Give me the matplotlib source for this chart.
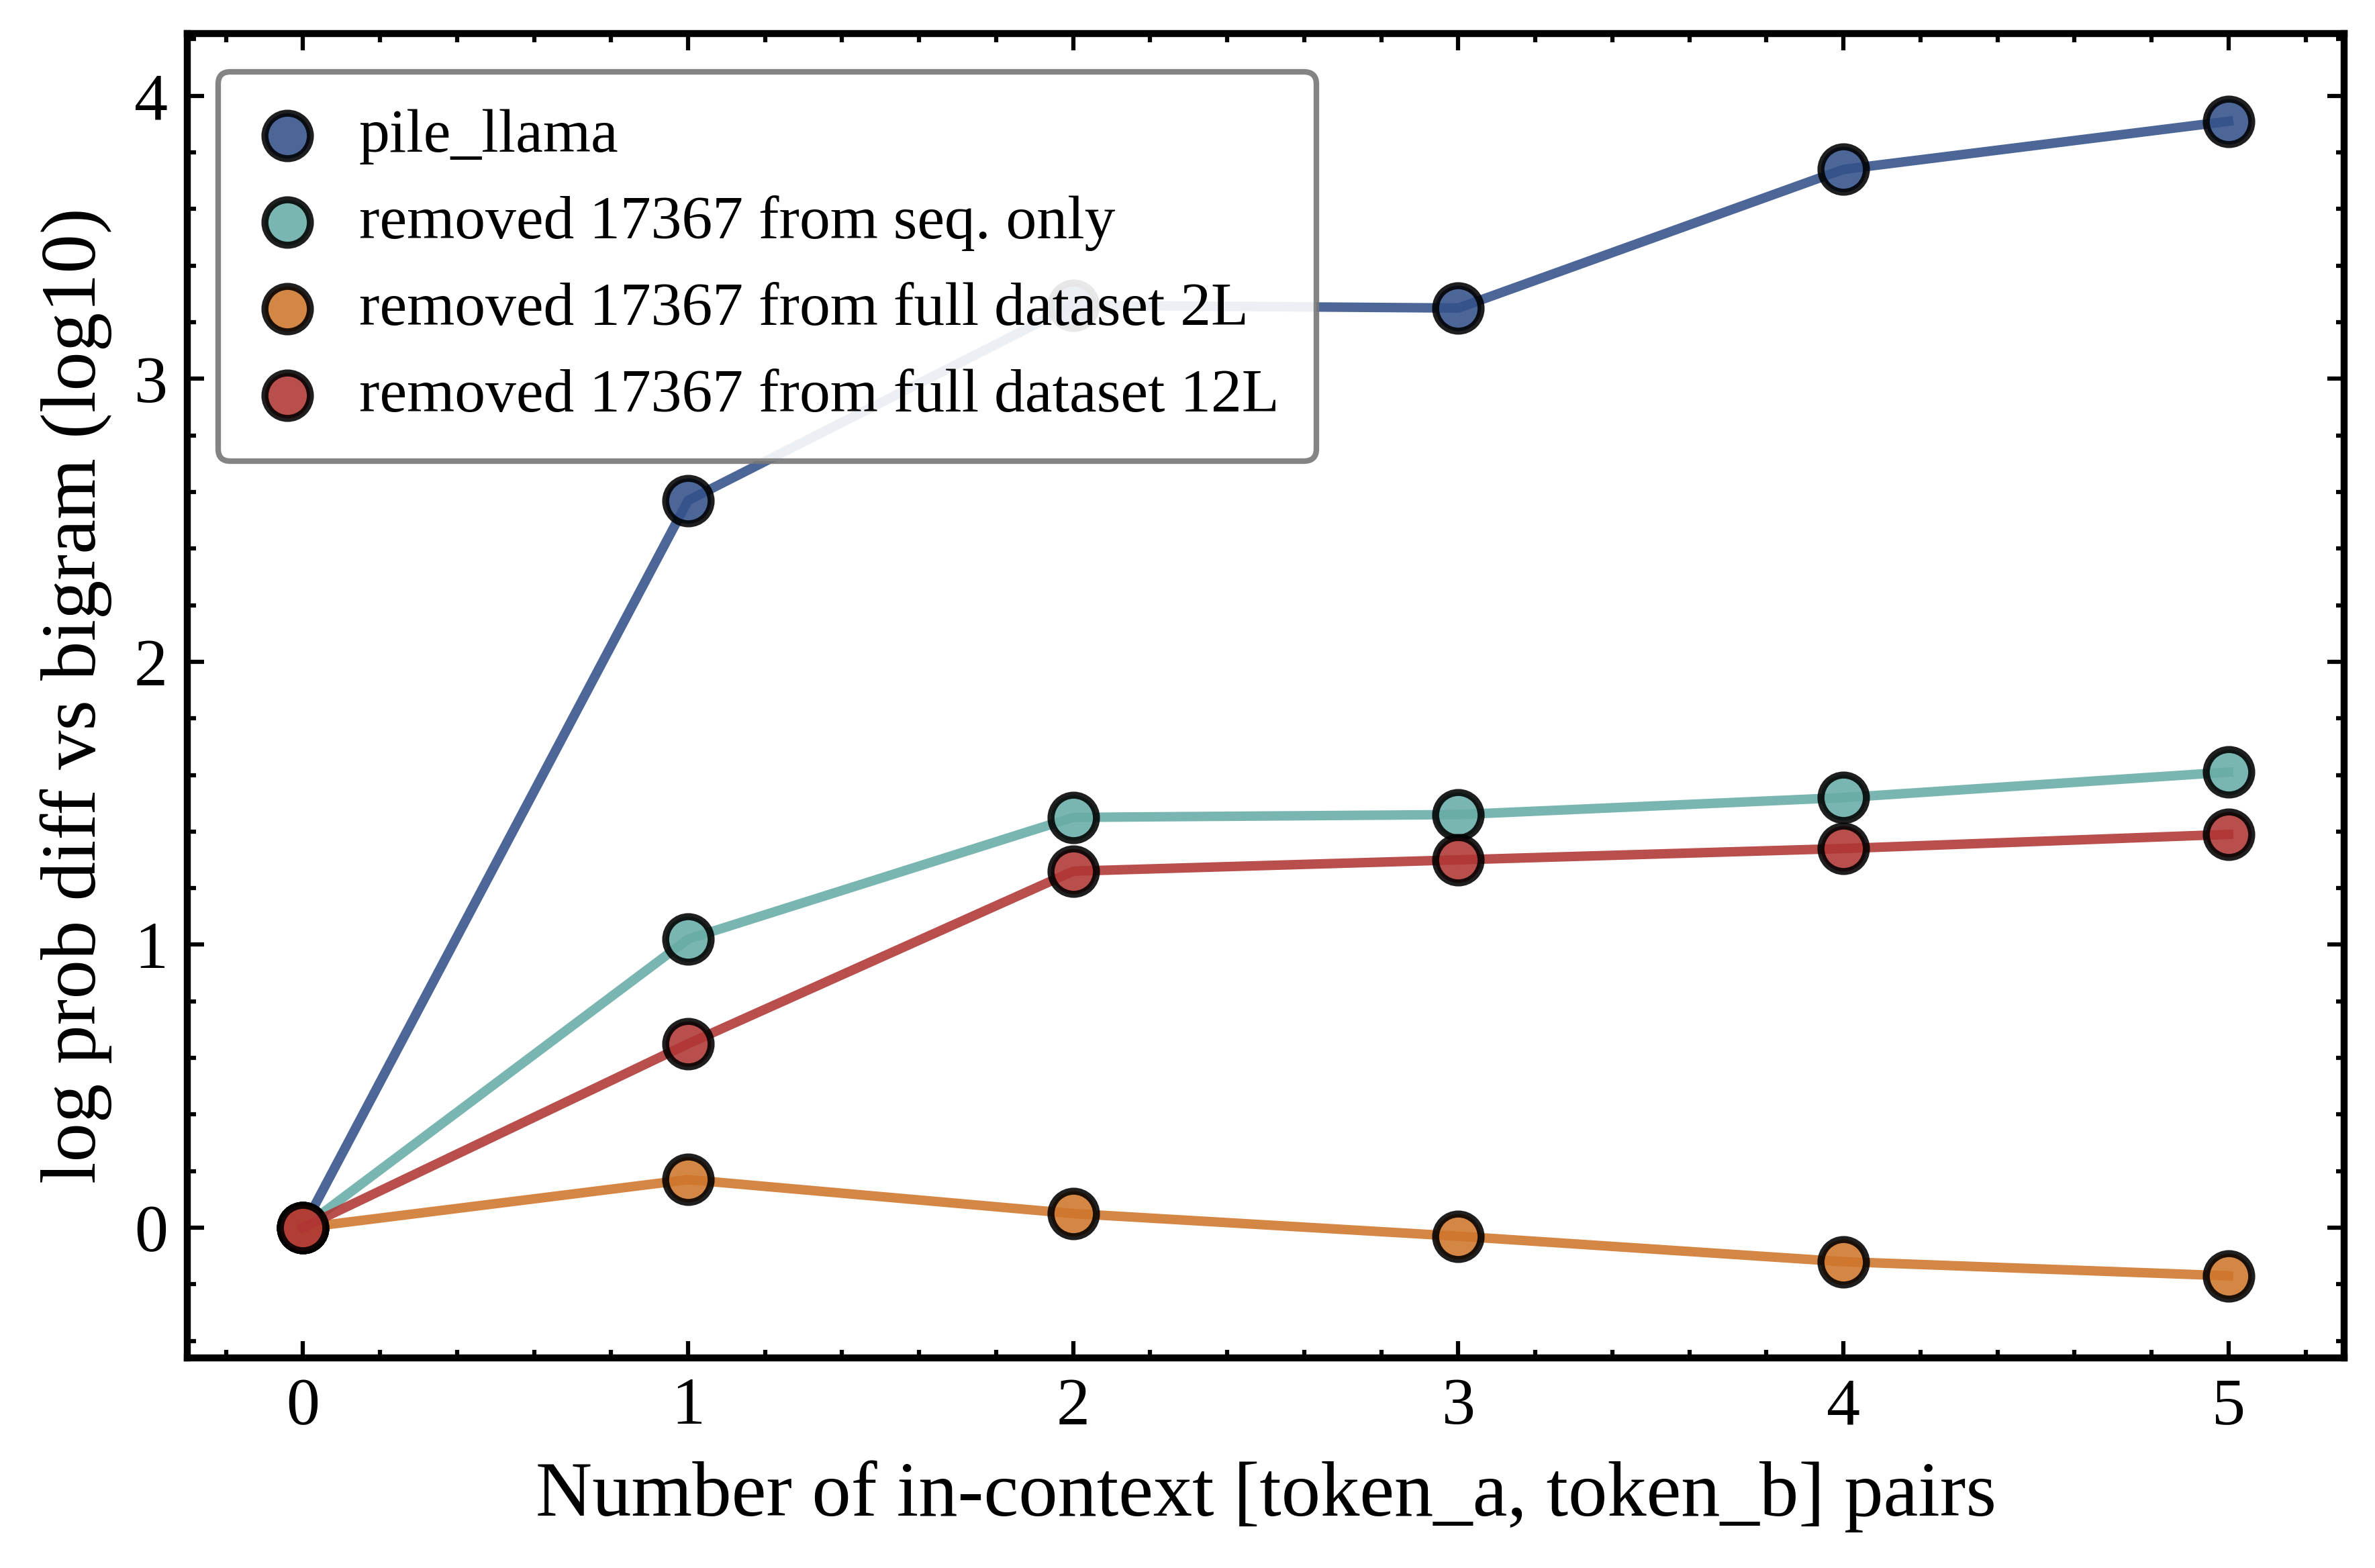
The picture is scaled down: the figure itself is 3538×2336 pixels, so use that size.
import matplotlib
matplotlib.use("Agg")
import matplotlib.pyplot as plt
import numpy as np

plt.rcParams['font.family'] = ['Liberation Serif', 'DejaVu Serif']
plt.rcParams['mathtext.fontset'] = 'stix'

# ---- data ----
x_pairs = [0, 1, 2, 3, 4, 5]
pile_llama = [0.0, 2.57, 3.26, 3.25, 3.74, 3.91]
seq_only = [0.0, 1.02, 1.45, 1.46, 1.52, 1.61]
full_2L = [0.0, 0.17, 0.05, -0.03, -0.12, -0.17]
full_12L = [0.0, 0.65, 1.26, 1.30, 1.34, 1.39]

series_labels = [
    "pile_llama",
    "removed 17367 from seq. only",
    "removed 17367 from full dataset 2L",
    "removed 17367 from full dataset 12L",
]
series_values = [pile_llama, seq_only, full_2L, full_12L]
series_colors = ["#34518A", "#68ACA6", "#CF752B", "#AF3634"]

fig = plt.figure(figsize=(3538 / 600, 2336 / 600), dpi=600)
ax = fig.add_axes([0.0789, 0.134, 0.987 - 0.0789, 0.9786 - 0.134])

for i, (lab, vals, col) in enumerate(zip(series_labels, series_values, series_colors)):
    ax.plot(x_pairs, vals, color=col, lw=1.7, alpha=0.88, zorder=2 + i)
    ax.scatter(x_pairs, vals, s=66, color=col, edgecolors="black", linewidths=1.25,
               alpha=0.88, zorder=2 + i, label=lab)

ax.set_xlim(-0.3, 5.3)
ax.set_ylim(-0.46, 4.22)
ax.set_xticks([0, 1, 2, 3, 4, 5])
ax.set_yticks([0, 1, 2, 3, 4])
ax.xaxis.set_minor_locator(matplotlib.ticker.MultipleLocator(0.2))
ax.yaxis.set_minor_locator(matplotlib.ticker.MultipleLocator(0.2))
ax.tick_params(which="both", direction="in", top=True, right=True, labelsize=12)
ax.tick_params(which="major", length=3, width=0.75)
ax.tick_params(which="minor", length=1.5, width=0.75)
for sp in ax.spines.values():
    sp.set_linewidth(1.25)

ax.set_xlabel("Number of in-context [token_a, token_b] pairs", fontsize=14, labelpad=4)
ax.set_ylabel("log prob diff vs bigram (log10)", fontsize=14, labelpad=4)

leg = ax.legend(loc="upper left", bbox_to_anchor=(0.0, 0.9945), fontsize=11,
                frameon=True, fancybox=True,
                framealpha=0.9, edgecolor="#777777", borderpad=0.6,
                handlelength=1.05, handletextpad=0.64, labelspacing=0.5)
leg.get_frame().set_linewidth(1.0)

fig.savefig("out.png", dpi=600)
